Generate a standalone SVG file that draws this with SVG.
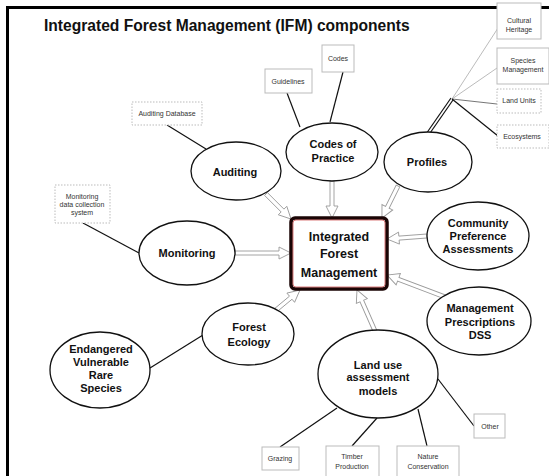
<svg xmlns="http://www.w3.org/2000/svg" width="549" height="476" viewBox="0 0 549 476">
  <style>
    .title { font-family: "Liberation Sans", Arial, sans-serif; font-weight: bold; font-size: 15.6px; fill: #111; }
    .node ellipse { fill: #fff; stroke: #111; stroke-width: 1.3; }
    .lbl { font-family: "Liberation Sans", Arial, sans-serif; font-weight: bold; font-size: 11px; fill: #111; text-anchor: middle; }
    .main { font-family: "Liberation Sans", Arial, sans-serif; font-weight: bold; font-size: 12.5px; fill: #111; text-anchor: middle; }
    .box rect { fill: #fff; stroke: #bbb; stroke-width: 1; }
    .box.dash rect { stroke-dasharray: 1.5 1.5; }
    .small { font-family: "Liberation Sans", Arial, sans-serif; font-size: 7px; fill: #333; text-anchor: middle; }
    .link { stroke: #111; stroke-width: 1.2; fill: none; }
    .thin { stroke: #aaa; stroke-width: 0.8; fill: none; }
    .mid { stroke: #666; stroke-width: 0.9; fill: none; }
    .arrow { fill: #fff; stroke: #9a9a9a; stroke-width: 0.9; stroke-linejoin: miter; }
  </style>

  <!-- frame -->
  <path d="M7.5,476 V7.5 H549" fill="none" stroke="#000" stroke-width="3"/>

  <text class="title" x="44" y="31">Integrated Forest Management (IFM) components</text>

  <!-- connectors -->
  <g id="connectors">
    <!-- plain links to leaf boxes -->
    <line class="link" x1="167" y1="125" x2="206" y2="149"/>
    <line class="link" x1="287" y1="93" x2="300" y2="127"/>
    <line class="link" x1="343" y1="72" x2="330" y2="122"/>
    <line class="link" x1="83" y1="223" x2="139" y2="253"/>
    <line class="link" x1="150" y1="368" x2="203" y2="335"/>
    <line class="link" x1="280" y1="447" x2="337" y2="408"/>
    <line class="link" x1="352" y1="446" x2="377" y2="418"/>
    <line class="link" x1="427" y1="446" x2="418" y2="409"/>
    <line class="link" x1="474" y1="426" x2="438" y2="379"/>
    <!-- profiles fan -->
    <line class="link" x1="451" y1="98" x2="426" y2="134"/>
    <line class="link" x1="453" y1="100" x2="428" y2="136"/>
    <line class="thin" x1="452" y1="99" x2="498" y2="28"/>
    <line class="thin" x1="452" y1="99" x2="497" y2="68"/>
    <line class="mid" x1="452" y1="99" x2="497" y2="104"/>
    <line class="link" x1="452" y1="99" x2="498" y2="136"/>
    <!-- hollow arrows into the central box -->
    <path class="arrow" transform="translate(266,194) rotate(45)" d="M0,-2 H23.4 V-6 L35.4,0 L23.4,6 V2 H0 Z"/>
    <path class="arrow" transform="translate(332,181) rotate(90)" d="M0,-2 H25 V-6 L37,0 L25,6 V2 H0 Z"/>
    <path class="arrow" transform="translate(398,186) rotate(116.6)" d="M0,-2 H23.8 V-6 L35.8,0 L23.8,6 V2 H0 Z"/>
    <path class="arrow" transform="translate(427,236) rotate(175.7)" d="M0,-2 H28.1 V-6 L40.1,0 L28.1,6 V2 H0 Z"/>
    <path class="arrow" transform="translate(445,297) rotate(200.8)" d="M0,-2 H50 V-6 L62,0 L50,6 V2 H0 Z"/>
    <path class="arrow" transform="translate(375,331) rotate(246.3)" d="M0,-2 H32.8 V-6 L44.8,0 L32.8,6 V2 H0 Z"/>
    <path class="arrow" transform="translate(276,310) rotate(-39.8)" d="M0,-2 H19.2 V-6 L31.2,0 L19.2,6 V2 H0 Z"/>
    <path class="arrow" transform="translate(235,253)" d="M0,-2 H44 V-6 L56,0 L44,6 V2 H0 Z"/>
  </g>

  <!-- central node -->
  <g id="ifm">
    <rect x="291" y="218" width="96" height="71" rx="4" fill="#fff" stroke="#1a0505" stroke-width="3.5"/>
    <rect x="293" y="220" width="92" height="67" rx="3" fill="none" stroke="#c44" stroke-width="0.7"/>
    <text class="main" x="339" y="240.5">Integrated</text>
    <text class="main" x="339" y="258">Forest</text>
    <text class="main" x="339" y="276.5">Management</text>
  </g>

  <!-- component nodes -->
  <g id="codes-of-practice" class="node">
    <ellipse cx="332" cy="152" rx="46" ry="29"/>
    <text class="lbl" x="333" y="148">Codes of</text>
    <text class="lbl" x="333" y="162">Practice</text>
  </g>
  <g id="profiles" class="node">
    <ellipse cx="428" cy="162" rx="44" ry="30"/>
    <text class="lbl" x="427" y="166">Profiles</text>
  </g>
  <g id="auditing" class="node">
    <ellipse cx="236" cy="171" rx="45" ry="29"/>
    <text class="lbl" x="235" y="176">Auditing</text>
  </g>
  <g id="monitoring" class="node">
    <ellipse cx="187" cy="253" rx="48" ry="32"/>
    <text class="lbl" x="187" y="257">Monitoring</text>
  </g>
  <g id="community" class="node">
    <ellipse cx="478" cy="236" rx="51" ry="34"/>
    <text class="lbl" x="478" y="227">Community</text>
    <text class="lbl" x="478" y="240">Preference</text>
    <text class="lbl" x="478" y="253">Assessments</text>
  </g>
  <g id="management-prescriptions" class="node">
    <ellipse cx="479" cy="321" rx="52" ry="34"/>
    <text class="lbl" x="480" y="312">Management</text>
    <text class="lbl" x="480" y="326">Prescriptions</text>
    <text class="lbl" x="480" y="339">DSS</text>
  </g>
  <g id="forest-ecology" class="node">
    <ellipse cx="248" cy="334" rx="46" ry="31"/>
    <text class="lbl" x="249" y="331">Forest</text>
    <text class="lbl" x="249" y="346">Ecology</text>
  </g>
  <g id="endangered" class="node">
    <ellipse cx="100" cy="370" rx="50" ry="38"/>
    <text class="lbl" x="101" y="353">Endangered</text>
    <text class="lbl" x="101" y="366">Vulnerable</text>
    <text class="lbl" x="101" y="379">Rare</text>
    <text class="lbl" x="101" y="392">Species</text>
  </g>
  <g id="land-use" class="node">
    <ellipse cx="378" cy="374" rx="60" ry="44"/>
    <text class="lbl" x="378" y="369">Land use</text>
    <text class="lbl" x="378" y="381">assessment</text>
    <text class="lbl" x="378" y="395">models</text>
  </g>

  <!-- leaf boxes -->
  <g id="auditing-database" class="box dash">
    <rect x="132" y="102" width="70" height="23"/>
    <text class="small" x="167" y="116">Auditing Database</text>
  </g>
  <g id="monitoring-data" class="box dash">
    <rect x="55" y="185" width="55" height="38"/>
    <text class="small" x="82" y="198.5">Monitoring</text>
    <text class="small" x="82" y="206.5">data collection</text>
    <text class="small" x="82" y="214.5">system</text>
  </g>
  <g id="guidelines" class="box">
    <rect x="265" y="69" width="47" height="24"/>
    <text class="small" x="288" y="83.5">Guidelines</text>
  </g>
  <g id="codes" class="box">
    <rect x="322" y="45" width="32" height="27"/>
    <text class="small" x="338" y="61">Codes</text>
  </g>
  <g id="cultural-heritage" class="box">
    <rect x="497" y="3" width="44" height="36"/>
    <text class="small" x="519" y="23">Cultural</text>
    <text class="small" x="519" y="32">Heritage</text>
  </g>
  <g id="species-management" class="box">
    <rect x="497" y="48" width="52" height="36"/>
    <text class="small" x="523" y="63">Species</text>
    <text class="small" x="523" y="72">Management</text>
  </g>
  <g id="land-units" class="box dash">
    <rect x="497" y="89" width="44" height="24"/>
    <text class="small" x="519" y="103">Land Units</text>
  </g>
  <g id="ecosystems" class="box dash">
    <rect x="497" y="125" width="52" height="23"/>
    <text class="small" x="522" y="139">Ecosystems</text>
  </g>
  <g id="grazing" class="box">
    <rect x="262" y="447" width="37" height="23"/>
    <text class="small" x="280" y="461">Grazing</text>
  </g>
  <g id="timber-production" class="box">
    <rect x="326" y="446" width="53" height="32"/>
    <text class="small" x="352" y="459">Timber</text>
    <text class="small" x="352" y="469">Production</text>
  </g>
  <g id="nature-conservation" class="box">
    <rect x="397" y="446" width="62" height="32"/>
    <text class="small" x="428" y="459">Nature</text>
    <text class="small" x="428" y="469">Conservation</text>
  </g>
  <g id="other" class="box">
    <rect x="474" y="414" width="31" height="24"/>
    <text class="small" x="490" y="428.5">Other</text>
  </g>
</svg>
